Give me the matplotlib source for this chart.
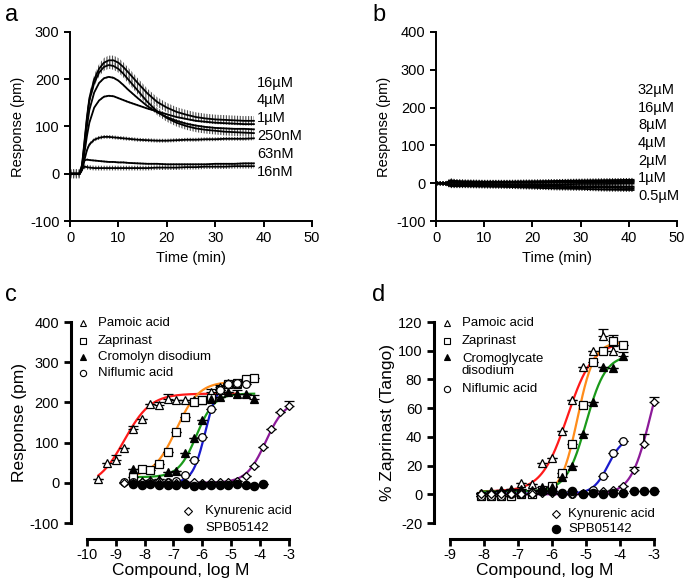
import numpy as np
import matplotlib.pyplot as plt

plt.rcParams['font.family'] = ['Liberation Sans', 'DejaVu Sans']
plt.rcParams['hatch.linewidth'] = 0.8
plt.rcParams['axes.unicode_minus'] = False

# ---- panel a: kinetic traces (pm) ----
times_a = [0, 2, 2.5, 3, 3.5, 4, 5, 6, 7, 8, 9, 10, 11, 12, 14, 16, 18, 20, 22, 24, 26, 28, 30, 32, 34, 36, 38]
traces_a = [
    [0, 0, 20, 70, 120, 160, 200, 222, 235, 240, 240, 235, 226, 215, 192, 170, 152, 140, 131, 125, 120, 117, 115, 114, 113, 112, 112],
    [0, 0, 18, 65, 115, 155, 192, 214, 226, 230, 228, 222, 212, 200, 176, 152, 132, 118, 108, 101, 96, 93, 91, 89, 88, 87, 86],
    [0, 0, 15, 55, 100, 135, 172, 192, 202, 205, 203, 197, 188, 178, 160, 143, 130, 120, 112, 106, 102, 99, 97, 96, 95, 95, 94],
    [0, 0, 12, 45, 80, 108, 140, 155, 163, 165, 164, 160, 156, 152, 145, 138, 132, 126, 120, 116, 112, 110, 108, 107, 106, 105, 105],
    [0, 0, 8, 30, 50, 62, 72, 76, 78, 78, 77, 76, 75, 74, 72, 71, 70, 70, 71, 72, 72, 73, 73, 74, 74, 74, 75],
    [0, 0, 15, 28, 30, 29, 28, 27, 26, 25, 25, 24, 24, 23, 22, 21, 21, 20, 20, 20, 20, 20, 21, 21, 21, 22, 22],
    [0, 0, 10, 15, 14, 13, 12, 12, 12, 12, 12, 12, 12, 12, 12, 12, 13, 13, 13, 14, 14, 15, 15, 15, 16, 16, 16],
]
err_a = [10, 8, 2, 2, 4, 2, 5]
labels_a = ['16µM', '4µM', '1µM', '250nM', '63nM', '16nM']
label_y_a = [193, 156, 117, 80, 42, 4]

# ---- panel b ----
times_b = [0, 2, 3, 4, 6, 10, 15, 20, 25, 30, 35, 41]
traces_b = [
    [0, 0, 8, 6, 5, 4, 4, 5, 6, 7, 8, 9],
    [0, 0, 5, 4, 3, 3, 3, 3, 4, 5, 5, 6],
    [0, 0, 3, 2, 1, 1, 1, 1, 2, 2, 3, 3],
    [0, -1, -2, -2, -2, -2, -3, -3, -3, -2, -2, -1],
    [0, -1, -4, -4, -4, -4, -5, -6, -7, -8, -8, -9],
    [0, -2, -6, -6, -6, -7, -8, -9, -10, -11, -12, -13],
    [0, -2, -8, -8, -8, -9, -10, -12, -14, -15, -17, -18],
]
labels_b = ['32µM', '16µM', '8µM', '4µM', '2µM', '1µM', '0.5µM']
label_y_b = [246, 200, 153, 106, 60, 13, -34]

# ---- panel c: DMR dose response ----
c_names = ['Pamoic acid', 'Zaprinast', 'Cromolyn disodium', 'Niflumic acid', 'Kynurenic acid', 'SPB05142']
c_x = [
    [-9.6, -9.3, -9.0, -8.7, -8.4, -8.1, -7.8, -7.5, -7.2, -6.9, -6.6, -6.3, -6.0, -5.7, -5.4, -5.1, -4.8],
    [-8.4, -8.1, -7.8, -7.5, -7.2, -6.9, -6.6, -6.3, -6.0, -5.7, -5.4, -5.1, -4.8, -4.5, -4.2],
    [-8.4, -8.1, -7.8, -7.5, -7.2, -6.9, -6.6, -6.3, -6.0, -5.7, -5.4, -5.1, -4.8, -4.5, -4.2],
    [-8.7, -8.4, -8.1, -7.8, -7.5, -7.2, -6.9, -6.6, -6.3, -6.0, -5.7, -5.4, -5.1, -4.8, -4.5],
    [-8.7, -8.4, -8.1, -7.8, -7.5, -7.2, -6.9, -6.6, -6.3, -6.0, -5.7, -5.4, -5.1, -4.8, -4.5, -4.2, -3.9, -3.6, -3.3, -3.0],
    [-8.4, -8.1, -7.8, -7.5, -7.2, -6.9, -6.6, -6.3, -6.0, -5.7, -5.4, -5.1, -4.8, -4.5, -4.2, -3.9],
]
c_y = [
    [10, 50, 58, 86, 133, 160, 196, 193, 208, 205, 205, 205, 207, 225, 239, 249, 247],
    [15, 34, 32, 47, 77, 127, 164, 202, 206, 210, 232, 245, 248, 258, 262],
    [34, 5, 8, 10, 28, 30, 73, 111, 156, 208, 214, 225, 222, 220, 208],
    [3, 1, 0, 1, 2, 3, 5, 19, 58, 115, 183, 232, 245, 248, 245],
    [0, 0, 1, 0, 0, 1, 0, 0, 1, 0, 1, 2, 2, 5, 18, 42, 90, 135, 175, 192],
    [-3, -5, -3, -6, -6, -5, -4, -7, -5, -6, -5, -5, -4, -6, -7, -3],
]
c_err = [
    [0, 0, 10, 0, 8, 0, 0, 8, 12, 0, 0, 0, 10, 8, 5, 0, 5],
    [0] * 15,
    [0, 0, 0, 0, 0, 0, 0, 0, 0, 0, 0, 0, 8, 0, 10],
    [0] * 15,
    [0] * 19 + [12],
    [0] * 16,
]
# Hill fits: bottom, top, logEC50, slope
c_fit = [
    [-10, 222, -8.7, 0.95],
    [14, 252, -6.9, 1.1],
    [14, 222, -6.2, 1.4],
    [0, 250, -5.9, 2.0],
    [0, 205, -3.8, 1.3],
]

# ---- panel d: Tango ----
d_names = ['Pamoic acid', 'Zaprinast', 'Cromoglycate\ndisodium', 'Niflumic acid', 'Kynurenic acid', 'SPB05142']
d_x = [
    [-8.1, -7.8, -7.5, -7.2, -6.9, -6.6, -6.3, -6.0, -5.7, -5.4, -5.1, -4.8, -4.5, -4.2],
    [-8.1, -7.8, -7.5, -7.2, -6.9, -6.6, -6.3, -6.0, -5.7, -5.4, -5.1, -4.8, -4.5, -4.2, -3.9],
    [-8.1, -7.8, -7.5, -7.2, -6.9, -6.6, -6.3, -6.0, -5.7, -5.4, -5.1, -4.8, -4.5, -4.2, -3.9],
    [-8.1, -7.8, -7.5, -7.2, -6.9, -6.6, -6.3, -6.0, -5.7, -5.4, -5.1, -4.8, -4.5, -4.2, -3.9],
    [-8.1, -7.8, -7.5, -7.2, -6.9, -6.6, -6.3, -6.0, -5.7, -5.4, -5.1, -4.8, -4.5, -4.2, -3.9, -3.6, -3.3, -3.0],
    [-6.3, -6.0, -5.7, -5.4, -5.1, -4.8, -4.5, -4.2, -3.9, -3.6, -3.3, -3.0],
]
d_y = [
    [1, 2, 3, 4, 8, 7, 22, 25, 44, 66, 89, 100, 110, 100],
    [-1, -1, -1, -1, 0, 0, 3, 6, 15, 35, 62, 92, 100, 107, 104],
    [1, 1, 2, 3, 4, 3, 5, 5, 12, 20, 42, 64, 89, 88, 96],
    [-1, -1, -1, 0, 0, 1, 2, 2, 0, 0, 0, 3, 13, 29, 37],
    [0, 0, 0, 0, 0, 0, 1, 1, 0, 0, 1, 1, 2, 3, 6, 17, 35, 64],
    [2, 2, 1, 2, 0, 1, 0, 1, 1, 2, 2, 2],
]
d_err = [
    [0] * 12 + [5, 3],
    [0] * 12 + [0, 4, 0],
    [0] * 14 + [3],
    [0] * 15,
    [0] * 15 + [2, 7, 4],
    [0] * 12,
]
d_fit = [
    [2, 106, -5.55, 1.15],
    [0, 106, -5.25, 1.8],
    [2, 97, -5.0, 1.5],
    [0.5, 40, -4.35, 2.0],
    [0, 110, -3.1, 1.5],
]

fit_colors = ['#ff1a1a', '#ff8c1a', '#1a9a1a', '#1a1acc', '#8c1a99']
markers = [('^', 'white'), ('s', 'white'), ('^', 'black'), ('o', 'white'), ('D', 'white'), ('o', 'black')]
msizes = [5.5, 6, 5.5, 5.5, 4.3, 6]
leg_sizes = [4.5, 4.5, 4.5, 4.5, 4, 6]


def hill(x, bottom, top, logec50, slope):
    return bottom + (top - bottom) / (1 + 10 ** ((logec50 - x) * slope))


fig = plt.figure(figsize=(6.85, 5.87), dpi=100)

# panel a
ax_a = fig.add_axes([0.1022, 0.6235, 0.3533, 0.322])
for tr, e in zip(traces_a, err_a):
    tr = np.array(tr, dtype=float)
    ax_a.fill_between(times_a, tr - e, tr + e, facecolor='none', edgecolor='0.3',
                      hatch='||||||', linewidth=0)
    ax_a.plot(times_a, tr, color='black', lw=1.3)
for lab, yy in zip(labels_a, label_y_a):
    ax_a.text(38.6, yy, lab, fontsize=10.5, va='center', ha='left')
ax_a.set_xlim(0, 50)
ax_a.set_ylim(-100, 300)
ax_a.set_xticks(range(0, 51, 10))
ax_a.set_yticks(range(-100, 301, 100))
ax_a.set_xlabel('Time (min)', fontsize=10.5)
ax_a.set_ylabel('Response (pm)', fontsize=10.5)

# panel b
ax_b = fig.add_axes([0.6365, 0.6235, 0.3518, 0.322])
for tr in traces_b:
    tr = np.array(tr, dtype=float)
    ax_b.fill_between(times_b, tr - 5, tr + 5, facecolor='none', edgecolor='0.1',
                      hatch='||||||', linewidth=0)
    ax_b.plot(times_b, tr, color='black', lw=1.3)
for lab, yy in zip(labels_b, label_y_b):
    ax_b.text(41.9, yy, lab, fontsize=10.5, va='center', ha='left')
ax_b.set_xlim(0, 50)
ax_b.set_ylim(-100, 400)
ax_b.set_xticks(range(0, 51, 10))
ax_b.set_yticks(range(-100, 401, 100))
ax_b.set_xlabel('Time (min)', fontsize=10.5)
ax_b.set_ylabel('Response (pm)', fontsize=10.5)

for ax in (ax_a, ax_b):
    for s in ('top', 'right'):
        ax.spines[s].set_visible(False)
    for s in ('left', 'bottom'):
        ax.spines[s].set_linewidth(1.4)
    ax.tick_params(direction='out', length=4, width=1.4, labelsize=10.5)


def dose_panel(ax, xs, ys, errs, fits, names, top_rows, bottom_rows, mx, tx, bmx, btx):
    for i in range(len(xs)):
        x = np.array(xs[i])
        if i < len(fits):
            xx = np.linspace(x.min(), x.max(), 200)
            ax.plot(xx, hill(xx, *fits[i]), color=fit_colors[i], lw=1.6, zorder=2)
        m, fc = markers[i]
        ax.errorbar(x, ys[i], yerr=[np.zeros(len(x)), errs[i]], fmt=m, mfc=fc, mec='black',
                    ms=msizes[i], mew=0.9, ecolor='black', elinewidth=1.2, capsize=3.5,
                    capthick=1.2, zorder=3, clip_on=False)
    # legends drawn by hand (GraphPad style)
    for i, yy in enumerate(top_rows):
        m, fc = markers[i]
        ax.plot([mx], [yy[0]], m, mfc=fc, mec='black', ms=leg_sizes[i], mew=0.8,
                transform=ax.transAxes, clip_on=False)
        ax.text(tx, yy[1], names[i], transform=ax.transAxes, fontsize=9.5, va='center',
                linespacing=1.05)
    for j, yy in enumerate(bottom_rows):
        i = 4 + j
        m, fc = markers[i]
        ax.plot([bmx], [yy], m, mfc=fc, mec='black', ms=leg_sizes[i], mew=0.8,
                transform=ax.transAxes, clip_on=False)
        ax.text(btx, yy, names[i], transform=ax.transAxes, fontsize=9.5, va='center')
    for s in ('top', 'right'):
        ax.spines[s].set_visible(False)
    for s in ('left', 'bottom'):
        ax.spines[s].set_linewidth(2.2)
    ax.spines['bottom'].set_position(('outward', 11.5))
    ax.tick_params(direction='out', length=5, width=2.0, labelsize=10.5)
    ax.tick_params(axis='x', pad=1.5)
    ax.set_xlabel('Compound, log M', fontsize=12.5, labelpad=1)


ax_c = fig.add_axes([0.1036, 0.1090, 0.3201, 0.3424])
dose_panel(ax_c, c_x, c_y, c_err, c_fit, c_names,
           [(0.995, 0.995), (0.905, 0.905), (0.826, 0.826), (0.746, 0.746)], [0.061, -0.026],
           0.055, 0.123, 0.534, 0.611)
ax_c.set_xlim(-10.55, -2.95)
ax_c.set_ylim(-100, 400)
ax_c.spines['bottom'].set_bounds(-10, -3)
ax_c.set_xticks(range(-10, -2))
ax_c.set_yticks(range(-100, 401, 100))
ax_c.set_ylabel('Response (pm)', fontsize=12.5, labelpad=2)

ax_d = fig.add_axes([0.6336, 0.1090, 0.3236, 0.3424])
dose_panel(ax_d, d_x, d_y, d_err, d_fit, d_names,
           [(0.995, 0.995), (0.905, 0.905), (0.826, 0.786), (0.667, 0.667)], [0.045, -0.030],
           0.059, 0.126, 0.55, 0.605)
ax_d.set_xlim(-9.47, -2.95)
ax_d.set_ylim(-20, 120)
ax_d.spines['bottom'].set_bounds(-9, -3)
ax_d.set_xticks(range(-9, -2))
ax_d.set_yticks(range(-20, 121, 20))
ax_d.set_ylabel('% Zaprinast (Tango)', fontsize=12.5, labelpad=2)

for lab, x, y in [('a', 0.008, 0.975), ('b', 0.543, 0.975), ('c', 0.008, 0.497), ('d', 0.543, 0.497)]:
    fig.text(x, y, lab, fontsize=17, va='center')

fig.savefig('out.png', dpi=100)
